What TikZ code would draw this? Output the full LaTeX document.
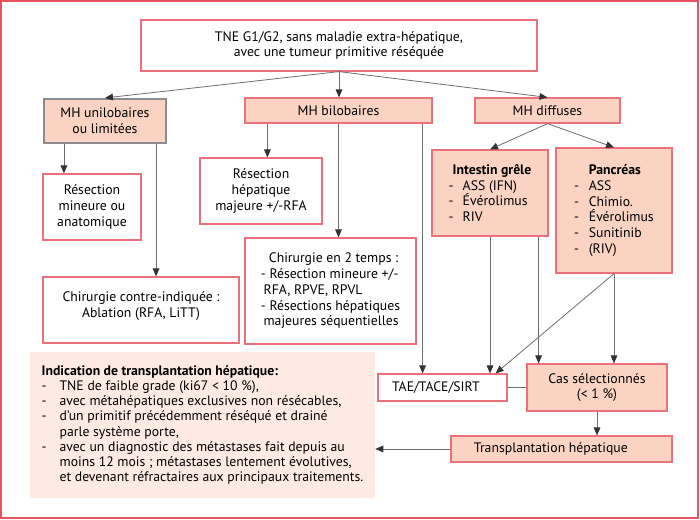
\documentclass[tikz,border=0pt]{standalone}
\usepackage{fontspec}
\setmainfont{PT Sans}
\usepackage{tikz}
\usetikzlibrary{arrows.meta}

\definecolor{boxred}{RGB}{234,112,122}
\definecolor{framered}{RGB}{232,82,94}
\definecolor{salmon}{RGB}{250,211,195}
\definecolor{peach}{RGB}{253,235,227}
\definecolor{linegray}{RGB}{110,110,110}

\newdimen\pxu \pxu=0.75pt
\tikzset{
  box/.style={draw=boxred, line width=0.9pt, align=center, inner sep=2pt,
    font=\fontsize{10.3}{11.8}\selectfont},
  fillbox/.style={box, fill=salmon},
  sz/.style 2 args={minimum width=#1*\pxu, minimum height=#2*\pxu},
  arr/.style={draw=linegray, line width=0.6pt, -{Triangle[length=6pt,width=5pt,color=black!80]}},
  ln/.style={draw=linegray, line width=0.6pt},
}
\newcommand{\itm}[1][13.5pt]{\makebox[#1][l]{-}}

\begin{document}
\begin{tikzpicture}[x=0.75pt,y=0.75pt,yscale=-1]
\useasboundingbox (0,0) rectangle (700,519);
%outer frame
\draw[framered, line width=1pt] (1,1) rectangle (698,518);

%Boxes
\node[box, sz={396}{51}] (tne) at (339,45.5)
  {TNE G1/G2, sans maladie extra-hépatique,\\avec une tumeur primitive réséquée};
\node[fillbox, draw=black!45, line width=1.6pt, sz={122}{44}] (uni) at (105,121)
  {MH unilobaires\\ou limitées};
\node[fillbox, sz={187}{25}] (bilob) at (338.5,110.5) {MH bilobaires};
\node[fillbox, sz={145}{25}] (diff) at (547.5,110.5) {MH diffuses};

\node[box, sz={98}{66}] (resmin) at (92,207)
  {Résection\\mineure ou\\anatomique};
\node[box, sz={196}{66}] (contre) at (141,310)
  {Chirurgie contre-indiquée :\\Ablation (RFA, LiTT)\\[-4pt]};
\node[box, sz={122}{66}] (reshep) at (261,191)
  {Résection\\hépatique\\majeure +/-RFA};
\node[box, align=left, sz={171}{106}] (deux) at (330.5,291)
  {\hspace*{6pt}Chirurgie en 2 temps :\\- Résection mineure +/-\\\hspace*{2pt}RFA, RPVE, RPVL\\- Résections hépatiques\\\hspace*{2pt}majeures séquentielles};

\node[fillbox, align=left, sz={116}{86}] (intestin) at (490,193)
  {\hspace*{3pt}\textbf{Intestin grêle}\\\itm[10.5pt]ASS (IFN)\\\itm[10.5pt]Évérolimus\\\itm[10.5pt]RIV};
\node[fillbox, align=left, sz={116}{125}] (pancreas) at (614,210.5)
  {\hspace*{11pt}\textbf{Pancréas}\\\itm[11pt]ASS\\\itm[11pt]Chimio.\\\itm[11pt]Évérolimus\\\itm[11pt]Sunitinib\\\itm[11pt](RIV)};

\node[box, sz={129}{27}] (tae) at (442.5,387.5)
  {\hspace*{-10pt}TAE/TACE/SIRT};
\node[fillbox, sz={140}{47}] (cas) at (597,387.5)
  {Cas sélectionnés\\(< 1 \%)};
\node[fillbox, sz={221}{26}] (transp) at (561.5,449)
  {\hspace*{-16pt}Transplantation hépatique};

\node[fill=peach, align=left, sz={345}{146},
  font=\fontsize{10.3}{11.4}\selectfont] (indic) at (202.5,425)
  {\textbf{Indication de transplantation hépatique:}\\
   \itm TNE de faible grade (ki67 < 10 \%),\\
   \itm avec métahépatiques exclusives non résécables,\\
   \itm d’un primitif précédemment réséqué et drainé\\
   \hspace*{13.5pt}parle système porte,\\
   \itm avec un diagnostic des métastases fait depuis au\\
   \hspace*{13.5pt}moins 12 mois ; métastases lentement évolutives,\\
   \hspace*{13.5pt}et devenant réfractaires aux principaux traitements.};

%Straight Lines
\draw[arr] (tne.south) -- (uni.north);
\draw[arr] (tne.south) -- (tne.south |- bilob.north);
\draw[arr] (tne.south) -- (diff.north);

\draw[arr] ([shift={(21,0)}]uni.south west) coordinate (u1) -- (u1 |- resmin.north);
\draw[arr] ([shift={(-11,0)}]uni.south east) coordinate (u2) -- (u2 |- contre.north);

\draw[arr] ([shift={(23,0)}]bilob.south west) coordinate (b1) -- (b1 |- reshep.north);
\draw[arr] (bilob.south) -- (bilob.south |- deux.north);
\draw[arr] ([shift={(-10,0)}]bilob.south east) coordinate (b2) -- (b2 |- tae.north);

\draw[arr] (diff.south) -- (intestin.north);
\draw[arr] (diff.south) -- (pancreas.north);

\draw[arr] (intestin.south) -- (intestin.south |- tae.north);
\draw[arr] ([shift={(-10,0)}]intestin.south east) coordinate (i1) -- (i1 |- cas.north);
\draw[arr] (pancreas.south) -- (pancreas.south |- cas.north);
\draw[arr] (pancreas.south) -- ([shift={(-12,0)}]tae.north east);

\draw[ln] (tae.east) -- (cas.west);
\draw[arr] (cas.south) -- (cas.south |- transp.north);
\draw[arr] (transp.west) -- (transp.west -| indic.east);

\end{tikzpicture}
\end{document}
